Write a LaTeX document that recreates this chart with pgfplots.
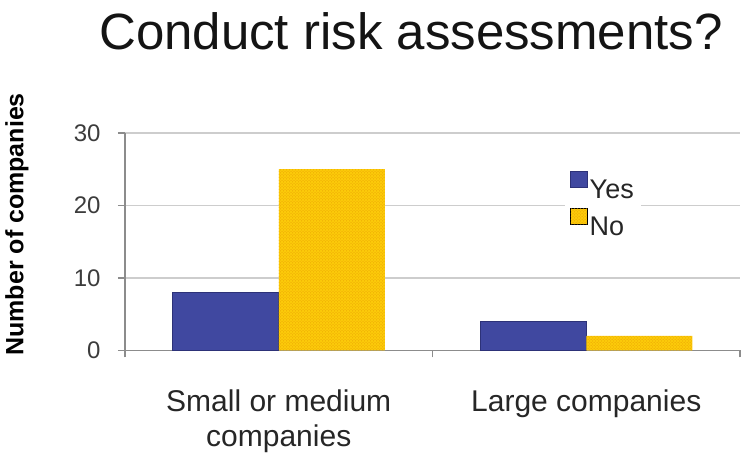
\documentclass[border=0pt]{standalone}
\usepackage{pgfplots}
\pgfplotsset{compat=1.18}
\usepackage{fontspec}
\setmainfont{Liberation Sans}
\usetikzlibrary{patterns}
\definecolor{yesblue}{RGB}{64,72,160}
\definecolor{yesedge}{RGB}{45,50,120}
\definecolor{nogold}{RGB}{252,202,10}
\definecolor{nodot}{RGB}{232,160,0}
\definecolor{axisgray}{RGB}{140,140,140}
\definecolor{gridgray}{RGB}{205,205,205}
\definecolor{ticktext}{RGB}{60,60,60}
\begin{document}
\begin{tikzpicture}
\begin{axis}[name=ax, scale only axis, width=615pt, height=217.5pt,
  xmin=-0.5, xmax=1.5, ymin=0, ymax=30,
  ybar=0pt, bar width=106pt,
  axis x line=bottom, axis y line=left,
  axis line style={-, draw=axisgray, line width=1.4pt},
  xtick={-0.5,0.5,1.5}, x tick label as interval,
  xticklabels={{Small or medium\\[1pt]companies},{Large companies}},
  ytick={0,10,20,30},
  ymajorgrids, grid style={line width=1.2pt, draw=gridgray},
  tick align=outside, major tick length=7pt,
  tick style={line width=1.2pt, draw=axisgray},
  /pgf/number format/assume math mode=true,
  yticklabel style={font=\fontsize{24}{28}\selectfont, text=ticktext, xshift=-14pt},
  xticklabel style={font=\fontsize{30}{34}\selectfont, align=center, text=black!85, yshift=-29pt},
  ylabel={Number of companies},
  ylabel style={font=\bfseries\fontsize{25}{30}\selectfont, at={(axis description cs:-0.1756,0.58)}, anchor=center},
  title={Conduct risk assessments?},
  title style={at={(axis description cs:0.465,1)}, anchor=base, yshift=77pt, font=\fontsize{51}{56}\selectfont, text=black!92},
  legend style={at={(axis description cs:0.715,0.851)}, anchor=north west, draw=none, fill=white,
    font=\fontsize{27}{30}\selectfont, row sep=6pt, inner sep=5pt, text=black!85},
  legend cell align=left,
  legend image code/.code={\draw[#1] (0pt,3pt) rectangle (17pt,19pt);},
]
\addplot[fill=yesblue, draw=yesedge, line width=0.8pt] coordinates {(0,8) (1,4)};
\addplot[fill=nogold, draw=none, postaction={pattern=crosshatch dots, pattern color=nodot}] coordinates {(0,25) (1,2)};
\legend{Yes,No}
\end{axis}
\pgfresetboundingbox
\path ([shift={(-125pt,-112pt)}]ax.south west) rectangle ([shift={(10pt,133pt)}]ax.north east);
\end{tikzpicture}
\end{document}
